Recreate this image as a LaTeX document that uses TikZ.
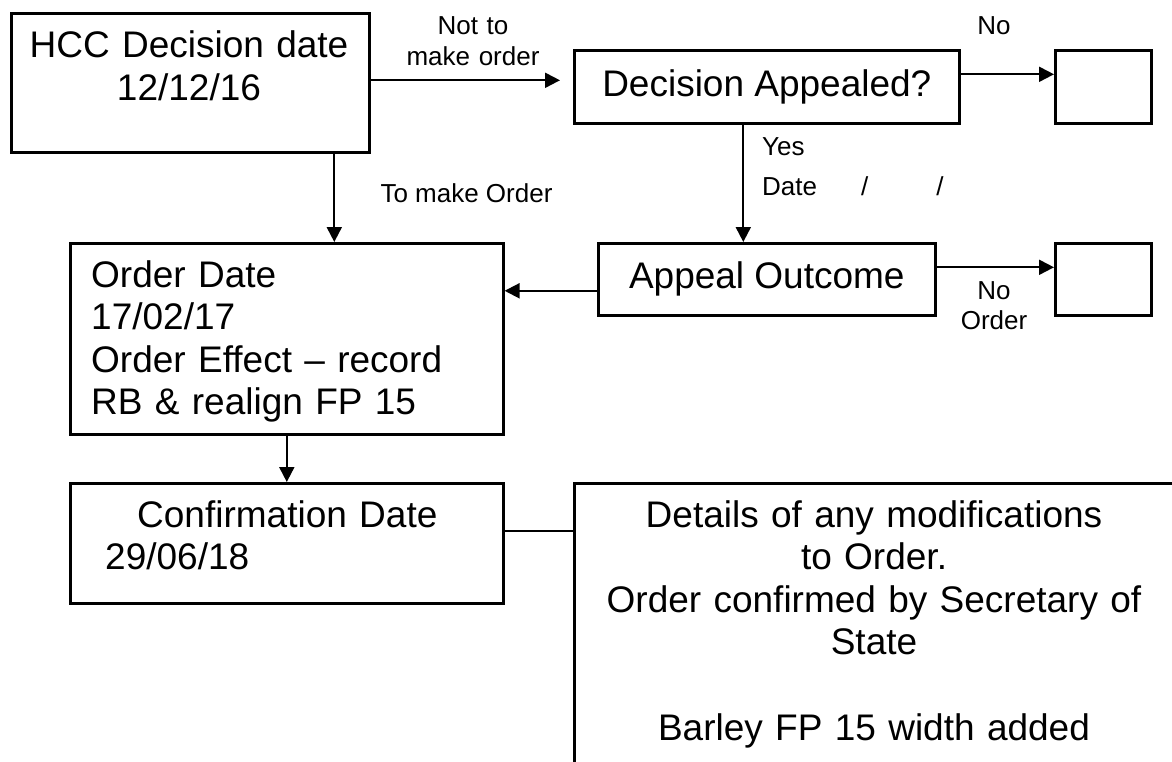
\documentclass[tikz,border=0pt]{standalone}
\usepackage{fontspec}
\setmainfont{Liberation Sans}
\usepackage{tikz}
\usetikzlibrary{arrows.meta,positioning,calc}

\tikzset{
  box/.style={draw, line width=2.6pt, rectangle, inner sep=0pt, anchor=north west,
    font=\fontsize{37}{42.5}\selectfont},
  arr/.style={line width=2pt, -{Triangle[length=15pt,width=15pt]}},
  link/.style={line width=2pt},
  bigtxt/.style={inner sep=0pt, font=\fontsize{37}{42.5}\selectfont},
  smalltxt/.style={inner sep=0pt, font=\fontsize{26}{30.5}\selectfont},
}

\begin{document}
\begin{tikzpicture}[x=1pt,y=-1pt]
\useasboundingbox (0,0) rectangle (1172,762);
\clip (0,0) rectangle (1172,762);

% boxes
\node[box, minimum width=358pt, minimum height=139pt] (hcc) at (10,12) {};
\node[bigtxt, anchor=base, text width=340pt, align=center] (hcctxt) at (189,58) {HCC Decision date\\12/12/16};
\node[box, minimum width=385pt, minimum height=73pt] (dec) at (573,49) {Decision Appealed?};
\node[box, minimum width=96pt, minimum height=73pt] (nob1) at (1054,49) {};
\node[box, minimum width=337pt, minimum height=72pt] (app) at (597,242) {Appeal Outcome};
\node[box, minimum width=96pt, minimum height=72pt] (nob2) at (1054,242) {};
\node[box, minimum width=433pt, minimum height=191pt] (ord) at (69,242) {};
\node[bigtxt, anchor=base west, text width=400pt, align=left] (ordtxt) at (91,287)
  {Order Date\\17/02/17\\Order Effect -- record\\RB \& realign FP 15};
\node[box, minimum width=433pt, minimum height=120pt] (conf) at (69,482) {};
\node[bigtxt, anchor=base west, text width=380pt, align=left] (conftxt) at (105,527)
  {\hspace*{32pt}Confirmation Date\\29/06/18};
\node[box, minimum width=602pt, minimum height=320pt] (det) at (573,482) {};
\node[bigtxt, anchor=base, text width=580pt, align=center] (dettxt) at (874,527)
  {Details of any modifications\\to Order.\\Order confirmed by Secretary of\\State\\[43pt]Barley FP 15 width added};

% labels
\node[smalltxt, anchor=base, text width=150pt, align=center] (notlbl) at (473,35) {Not to\\make order};
\node[smalltxt, anchor=base] (nolbl) at (994,35) {No};
\node[smalltxt, anchor=base] (tolbl) at (466.5,203) {To make Order};
\node[smalltxt, anchor=base west, text width=220pt, align=left] (yeslbl) at (762,156)
  {Yes\\[9.5pt]Date\hspace{44pt}/\hspace{68pt}/};
\node[smalltxt, anchor=base, text width=100pt, align=center] (noordlbl) at (994,299) {No\\Order};

% connectors
\draw[arr, shorten >=13pt] ([yshift=2.5pt]hcc.east) -- ([yshift=2.5pt]hcc.east -| dec.west);
\draw[arr] ([yshift=12.5pt]dec.east) -- ([yshift=12.5pt]dec.east -| nob1.west);
\draw[arr] ([xshift=-23.5pt]dec.south) -- ([xshift=-23.5pt]dec.south |- app.north);
\draw[arr] ([yshift=12pt]app.east) -- ([yshift=12pt]app.east -| nob2.west);
\draw[arr] ([yshift=-11.5pt]app.west) -- ([yshift=-11.5pt]app.west -| ord.east);
\draw[arr] ([xshift=144pt]hcc.south) -- ([xshift=144pt]hcc.south |- ord.north);
\draw[arr] (ord.south) -- (conf.north);
\draw[link] ([yshift=12pt]conf.east) -- ([yshift=12pt]conf.east -| det.west);
\end{tikzpicture}
\end{document}
